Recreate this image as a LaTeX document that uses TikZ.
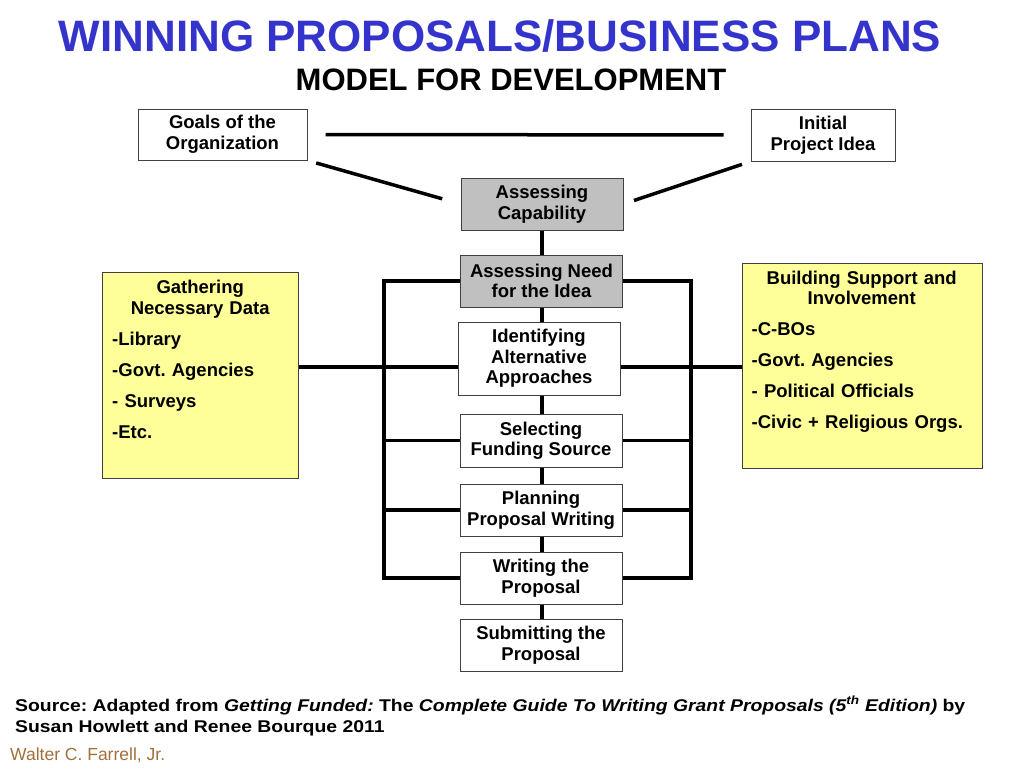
\documentclass[tikz,border=0pt]{standalone}
\usepackage{fontspec}
\setmainfont{Liberation Sans}
\newfontfamily\widefont[FakeStretch=1.14]{Liberation Sans}
\usetikzlibrary{positioning}
\definecolor{titleblue}{HTML}{3434CC}
\definecolor{notegold}{HTML}{FFFF99}
\definecolor{boxgray}{HTML}{C0C0C0}
\definecolor{authorbrown}{HTML}{A0703C}
\frenchspacing

\begin{document}
\begin{tikzpicture}[x=1pt,y=-1pt,
 stage/.style={draw=black!75,line width=1pt,fill=white,minimum width=162pt,minimum height=52pt,
   inner sep=0pt,align=center,font=\fontsize{18.5}{20.5}\selectfont\bfseries},
 shade/.style={stage,fill=boxgray},
 notebox/.style={draw=black!75,line width=1pt,fill=notegold,inner sep=0pt},
 notetxt/.style={anchor=north west,inner sep=0pt,align=left,font=\fontsize{18.5}{20.5}\selectfont\bfseries},
 link/.style={line width=3.5pt,black}]
\useasboundingbox (0,0) rectangle (1024,768);
% Titles.
\node[font=\fontsize{44}{48}\selectfont\bfseries,text=titleblue] (title) at (500,36) {WINNING PROPOSALS/BUSINESS PLANS};
\node[font=\fontsize{31}{34}\selectfont\bfseries] (subtitle) at (511,80) {MODEL FOR DEVELOPMENT};
% Starting points.
\node[stage,minimum width=169pt,minimum height=51pt] (goals) at (222.5,134.5) {Goals of the\\Organization};
\node[stage,minimum width=144pt] (idea) at (823,135) {Initial\\Project Idea};
% Main chain.
\node[shade] (capab) at (542,204) {Assessing\\Capability};
\node[shade] (need) at (541.5,281) {Assessing Need\\for the Idea};
\node[stage,minimum height=73pt] (ident) at (539,358.5) {Identifying\\Alternative\\Approaches};
\node[stage,minimum height=53pt] (sel) at (541,440.5) {Selecting\\Funding Source};
\node[stage] (plan) at (541,510) {Planning\\Proposal Writing};
\node[stage] (write) at (541,578) {Writing the\\Proposal};
\node[stage] (submit) at (541,645) {Submitting the\\Proposal};
% Side notes.
\node[notebox,minimum width=196pt,minimum height=206pt] (gather) at (200.5,375.5) {};
\node[notetxt,text width=176pt] (gathertxt) at ([shift={(10,8)}]gather.north west)
  {{\centering Gathering\\Necessary Data\par}\vspace{10.5pt}
   -Library\\[10.5pt]-Govt. Agencies\\[10.5pt]- Surveys\\[10.5pt]-Etc.};
\node[notebox,minimum width=240pt,minimum height=205pt] (build) at (862,365.5) {};
\node[notetxt,text width=220pt] (buildtxt) at ([shift={(10,8)}]build.north west)
  {{\centering Building Support and\\Involvement\par}\vspace{10.5pt}
   -C-BOs\\[10.5pt]-Govt. Agencies\\[10.5pt]- Political Officials\\[10.5pt]-Civic + Religious Orgs.};
% Connectors.
\draw[link,shorten <=18pt,shorten >=27pt] (goals.east) -- (idea.west);
\draw[link,shorten <=9pt,shorten >=19pt] (goals.south east) -- (capab.west);
\draw[link,shorten <=11pt,shorten >=9pt] (capab.east) -- (idea.south west);
\foreach \a/\b in {capab/need,need/ident,ident/sel,sel/plan,plan/write,write/submit}
  \draw[link] (\a.south -| capab) -- (\b.north -| capab);
\coordinate (lbus) at (384,0);
\coordinate (rbus) at (691,0);
\coordinate (sidey) at (0,367);
\draw[link] (need.west) -- (need.west -| lbus) -- (write.west -| lbus) -- (write.west);
\draw[link] (need.east) -- (need.east -| rbus) -- (write.east -| rbus) -- (write.east);
\foreach \n in {sel,plan}{
  \draw[link] (\n.west) -- (\n.west -| lbus);
  \draw[link] (\n.east) -- (\n.east -| rbus);
}
\draw[link] (gather.east |- sidey) -- (ident.west |- sidey);
\draw[link] (ident.east |- sidey) -- (build.west |- sidey);
% Source and author.
\node[anchor=north west,align=left,inner sep=0pt,font=\widefont\fontsize{17}{21}\selectfont\bfseries] (source) at (15,696)
  {Source: Adapted from \textit{Getting Funded:} The \textit{Complete Guide To Writing Grant Proposals (5\textsuperscript{th} Edition)} by\\
   Susan Howlett and Renee Bourque 2011};
\node[anchor=west,inner sep=0pt,font=\fontsize{17.5}{19}\selectfont,text=authorbrown] (author) at (10,755) {Walter C. Farrell, Jr.};
\end{tikzpicture}
\end{document}
